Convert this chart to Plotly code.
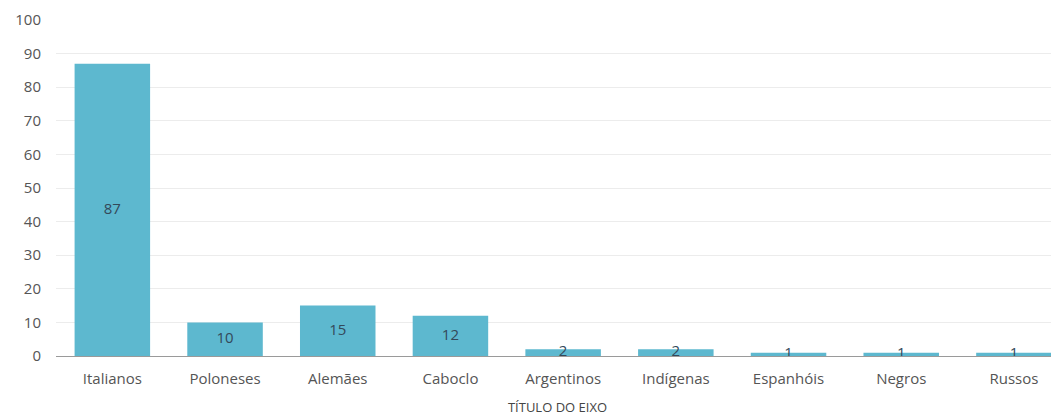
import plotly.graph_objects as go

categories = ["Italianos", "Poloneses", "Alemães", "Caboclo", "Argentinos",
              "Indígenas", "Espanhóis", "Negros", "Russos"]
values = [87, 10, 15, 12, 2, 2, 1, 1, 1]
y_ticks = [0, 10, 20, 30, 40, 50, 60, 70, 80, 90, 100]
x_title = "TÍTULO DO EIXO"

FONT = "Open Sans, Noto Sans, sans-serif"

fig = go.Figure()
fig.add_trace(go.Bar(
    x=categories, y=values,
    marker=dict(color="#5db8cf", line=dict(width=0)),
    width=0.67,
    hoverinfo="x+y",
))
fig.add_trace(go.Scatter(
    x=categories, y=[v / 2 for v in values],
    mode="text", text=[str(v) for v in values],
    textfont=dict(family=FONT, size=15, color="#34495a"),
    hoverinfo="skip",
))

fig.update_layout(
    width=1051, height=412,
    margin=dict(l=48, r=0, t=12, b=64),
    paper_bgcolor="white", plot_bgcolor="white",
    showlegend=False,
    font=dict(family=FONT, size=15, color="#555555"),
    xaxis=dict(
        range=[-0.5, 8.4],
        showgrid=False, showline=False, zeroline=False,
        ticks="", tickfont=dict(size=15, color="#555555"),
        ticklabelstandoff=12,
        title=dict(text=x_title, font=dict(size=13, color="#444444"), standoff=15),
    ),
    yaxis=dict(
        range=[0, 100], tickvals=y_ticks,
        showgrid=True, gridcolor="#ececec", gridwidth=1,
        zeroline=True, zerolinecolor="#9a9a9a", zerolinewidth=1,
        showline=False, ticks="",
        tickfont=dict(size=15, color="#555555"),
        ticklabelstandoff=14,
    ),
)

fig.write_html("out.html")
